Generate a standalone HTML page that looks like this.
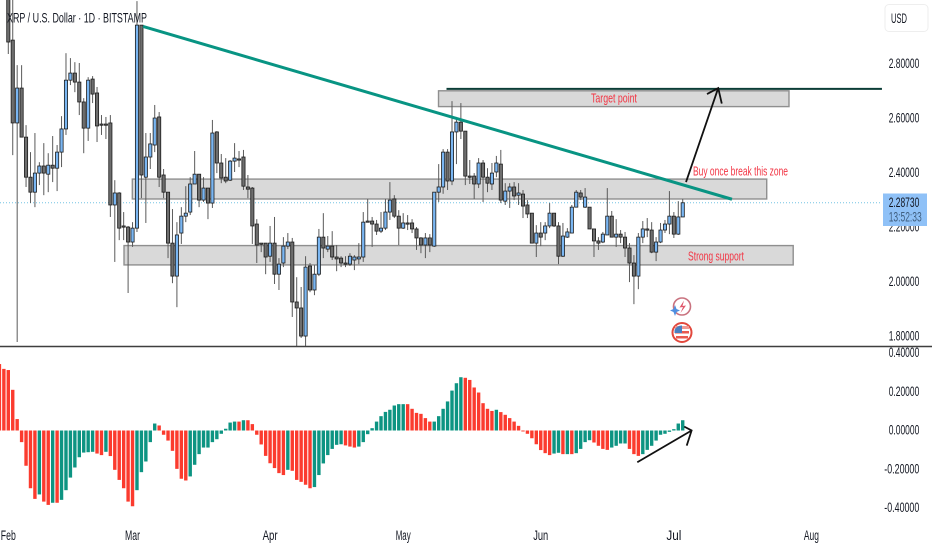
<!DOCTYPE html>
<html><head><meta charset="utf-8"><title>XRP / U.S. Dollar chart</title>
<style>
html,body{margin:0;padding:0;background:#fff;width:932px;height:550px;overflow:hidden}
svg{display:block}
text{font-family:"Liberation Sans",sans-serif}
</style></head>
<body>
<svg id="chart" width="932" height="550" viewBox="0 0 932 550" xmlns="http://www.w3.org/2000/svg">
<rect width="932" height="550" fill="#fff"/>
<defs><clipPath id="priceClip"><rect x="0" y="0" width="882" height="346"/></clipPath></defs>
<g id="zones"></g>
<line id="lastPriceLine" x1="0" x2="882" stroke="#74c4e4" stroke-width="1" stroke-dasharray="1 2"/>
<g id="candles" clip-path="url(#priceClip)"></g>
<g id="hist"></g>
<g id="drawings"></g>
<text x="591" y="102.5" font-size="12.5" fill="#f23645" textLength="46" lengthAdjust="spacingAndGlyphs">Target point</text>
<text x="693" y="175.5" font-size="12.5" fill="#f23645" textLength="95" lengthAdjust="spacingAndGlyphs">Buy once break this zone</text>
<text x="688" y="260.5" font-size="12.5" fill="#f23645" textLength="56" lengthAdjust="spacingAndGlyphs">Strong support</text>
<text x="7" y="22.5" font-size="13.5" fill="#131722" textLength="140" lengthAdjust="spacingAndGlyphs">XRP / U.S. Dollar · 1D · BITSTAMP</text>
<line x1="0" x2="932" y1="346.5" y2="346.5" stroke="#3f3f3f" stroke-width="1.5"/>
<g id="axisLabels"></g>
<g>
<rect x="885" y="4.5" width="43" height="27" rx="4" fill="#fff" stroke="#eeeeee"/>
<text x="891" y="23" font-size="13.5" fill="#131722" textLength="16" lengthAdjust="spacingAndGlyphs">USD</text>
</g>
<g>
<rect id="priceTag" x="883" y="193.5" width="44" height="32.5" fill="#8fc1f7"/>
<text id="priceTagText" x="888.7" y="207" font-size="13.5" fill="#131722" textLength="30.6" lengthAdjust="spacingAndGlyphs">2.28730</text>
<text x="888.7" y="221.5" font-size="13.5" fill="#3f5f80" textLength="33" lengthAdjust="spacingAndGlyphs">13:52:33</text>
</g>
<g>
<circle cx="682" cy="306.5" r="8.5" fill="#fff" stroke="#c9727f" stroke-width="1.6"/>
<path d="M684 300.5 L679.5 307.5 L683 307 L680.5 313 L686 305.5 L682.5 306 Z" fill="#e0566a"/>
<path d="M675 305 L676.5 309 L680 310.5 L676.5 312 L675 316 L673.5 312 L670 310.5 L673.5 309 Z" fill="#4f8fe0"/>
</g>
<g>
<circle cx="682" cy="332.5" r="9.5" fill="#fff" stroke="#e2483d" stroke-width="2"/>
<rect x="675" y="326" width="14" height="3" fill="#f09a94"/>
<rect x="675" y="331" width="14" height="2.5" fill="#e85a50"/>
<rect x="676" y="336" width="12" height="2.5" fill="#e85a50"/>
<path d="M674.5 333 L674.5 330 A8 8 0 0 1 682 325.5 L682 333 Z" fill="#4a7fc0"/>
</g>
<script>
// Time axis: bar index 0 is the first visible candle. Prices are in USD.
const opens=[3.104,2.884,2.580,2.708,2.528,2.381,2.326,2.396,2.422,2.392,2.425,2.414,2.473,2.558,2.737,2.763,2.730,2.657,2.561,2.741,2.690,2.576,2.576,2.580,2.279,2.323,2.202,2.198,2.143,2.194,2.939,2.381,2.455,2.499,2.602,2.389,2.326,2.139,2.018,2.176,2.238,2.253,2.356,2.392,2.297,2.341,2.286,2.547,2.433,2.381,2.370,2.440,2.448,2.455,2.345,2.341,2.209,2.139,2.139,2.091,2.139,2.025,2.066,2.128,2.143,1.923,1.901,1.798,2.055,1.967,2.025,2.161,2.117,2.128,2.088,2.084,2.066,2.062,2.077,2.081,2.088,2.220,2.220,2.209,2.183,2.194,2.253,2.301,2.238,2.194,2.213,2.213,2.191,2.158,2.132,2.158,2.128,2.326,2.345,2.473,2.367,2.547,2.583,2.550,2.385,2.385,2.356,2.433,2.381,2.356,2.400,2.429,2.293,2.330,2.345,2.315,2.319,2.279,2.249,2.139,2.176,2.176,2.202,2.249,2.202,2.091,2.161,2.176,2.271,2.323,2.271,2.271,2.191,2.147,2.143,2.169,2.238,2.161,2.172,2.161,2.121,2.066,2.018,2.161,2.191,2.187,2.106,2.143,2.187,2.209,2.238,2.172,2.235];
const highs=[3.150,3.050,2.792,2.792,2.572,2.473,2.543,2.436,2.506,2.469,2.532,2.499,2.605,2.836,2.818,2.803,2.800,2.671,2.748,2.752,2.712,2.609,2.602,2.609,2.370,2.326,2.253,2.202,2.216,3.027,2.939,2.543,2.543,2.646,2.620,2.411,2.326,2.264,2.216,2.271,2.348,2.381,2.477,2.392,2.381,2.341,2.591,2.550,2.466,2.451,2.444,2.506,2.477,2.481,2.389,2.345,2.227,2.139,2.139,2.202,2.235,2.084,2.161,2.176,2.158,2.014,1.978,2.091,2.066,2.058,2.191,2.249,2.165,2.183,2.132,2.091,2.091,2.102,2.095,2.139,2.253,2.301,2.235,2.224,2.253,2.301,2.363,2.315,2.260,2.249,2.242,2.227,2.198,2.161,2.176,2.172,2.326,2.429,2.484,2.484,2.660,2.602,2.653,2.550,2.444,2.396,2.451,2.444,2.414,2.433,2.459,2.481,2.359,2.359,2.363,2.359,2.334,2.297,2.249,2.205,2.216,2.216,2.286,2.249,2.216,2.213,2.194,2.279,2.334,2.334,2.341,2.271,2.191,2.161,2.180,2.341,2.257,2.227,2.187,2.180,2.139,2.095,2.176,2.220,2.231,2.216,2.161,2.213,2.224,2.330,2.253,2.293,2.301];
const lows=[2.833,2.462,1.776,2.528,2.345,2.286,2.271,2.352,2.315,2.326,2.363,2.330,2.418,2.536,2.719,2.693,2.609,2.469,2.514,2.653,2.510,2.536,2.521,2.235,2.070,2.150,2.150,1.956,2.125,2.180,2.304,2.213,2.411,2.473,2.345,2.304,2.084,1.992,1.904,2.136,2.216,2.242,2.356,2.271,2.290,2.227,2.268,2.396,2.359,2.359,2.367,2.400,2.418,2.334,2.304,2.136,2.066,2.106,2.025,2.070,1.989,1.967,2.051,2.117,1.868,1.760,1.791,1.760,1.959,1.948,2.018,2.084,2.106,2.077,2.036,2.051,2.051,2.055,2.040,2.062,2.070,2.216,2.125,2.169,2.176,2.187,2.224,2.231,2.132,2.191,2.187,2.176,2.114,2.102,2.084,2.106,2.125,2.290,2.320,2.334,2.352,2.429,2.521,2.352,2.356,2.301,2.341,2.290,2.326,2.334,2.381,2.286,2.279,2.268,2.297,2.279,2.231,2.231,2.139,2.088,2.128,2.150,2.194,2.198,2.062,2.088,2.158,2.176,2.271,2.297,2.268,2.191,2.088,2.114,2.139,2.169,2.161,2.125,2.139,2.088,1.996,1.915,1.970,2.139,2.161,2.102,2.073,2.139,2.176,2.172,2.158,2.169,2.235];
const closes=[2.877,2.580,2.708,2.528,2.381,2.326,2.396,2.422,2.396,2.425,2.414,2.473,2.558,2.737,2.763,2.730,2.657,2.561,2.737,2.686,2.569,2.572,2.572,2.279,2.323,2.194,2.198,2.143,2.194,2.939,2.389,2.455,2.503,2.598,2.381,2.326,2.139,2.018,2.169,2.238,2.249,2.356,2.392,2.297,2.341,2.286,2.543,2.433,2.378,2.367,2.440,2.451,2.444,2.348,2.337,2.202,2.132,2.136,2.088,2.139,2.025,2.062,2.128,2.143,1.923,1.901,1.798,2.051,1.967,2.025,2.161,2.121,2.128,2.088,2.081,2.066,2.062,2.091,2.088,2.088,2.216,2.216,2.209,2.183,2.194,2.253,2.297,2.238,2.194,2.213,2.209,2.191,2.158,2.132,2.158,2.132,2.326,2.345,2.473,2.367,2.547,2.583,2.550,2.385,2.381,2.356,2.433,2.381,2.359,2.396,2.433,2.297,2.330,2.345,2.312,2.323,2.275,2.246,2.139,2.176,2.161,2.202,2.249,2.202,2.091,2.165,2.180,2.271,2.326,2.308,2.308,2.191,2.147,2.139,2.172,2.238,2.161,2.172,2.161,2.121,2.066,2.018,2.161,2.191,2.187,2.106,2.143,2.187,2.209,2.238,2.172,2.235,2.287];

// Oscillator histogram; first two bars sit left of candle 0.
const histValues=[.343,.318,.312,.210,.059,-.060,-.182,-.298,-.353,-.330,-.367,-.384,-.373,-.373,-.358,-.308,-.243,-.191,-.138,-.114,-.112,-.110,-.119,-.127,-.110,-.132,-.203,-.255,-.298,-.367,-.391,-.308,-.215,-.160,-.060,.036,.026,-.022,-.052,-.105,-.198,-.249,-.258,-.237,-.177,-.122,-.088,-.088,-.060,-.045,-.017,.009,.041,.046,.046,.053,.053,.033,-.022,-.072,-.131,-.169,-.194,-.220,-.230,-.203,-.208,-.255,-.265,-.280,-.298,-.292,-.230,-.170,-.127,-.095,-.074,-.071,-.077,-.083,-.088,-.083,-.060,-.019,.012,.046,.074,.096,.107,.129,.136,.136,.136,.112,.091,.086,.064,.046,.046,.074,.112,.150,.206,.244,.275,.272,.261,.222,.196,.141,.112,.101,.107,.095,.081,.064,.046,.024,-.005,-.017,-.040,-.071,-.101,-.117,-.127,-.119,-.115,-.122,-.122,-.122,-.117,-.095,-.060,-.050,-.062,-.079,-.095,-.100,-.088,-.079,-.067,-.067,-.095,-.122,-.131,-.122,-.100,-.079,-.052,-.022,-.017,-.007,.007,.036,.053];
const histRising=[0,0,0,0,0,0,0,0,0,1,0,0,1,0,1,1,1,1,1,1,1,1,0,0,1,0,0,0,0,0,0,1,1,1,1,1,0,0,0,0,0,0,0,1,1,1,1,1,1,1,1,1,1,1,0,1,0,0,0,0,0,0,0,0,0,1,0,0,0,0,0,1,1,1,1,1,1,1,0,0,0,1,1,1,1,1,1,1,1,1,1,1,0,0,0,0,0,0,1,1,1,1,1,1,1,0,0,0,0,0,0,0,1,0,0,0,0,0,0,0,0,0,0,0,0,1,1,0,1,0,1,1,1,1,0,0,0,0,1,1,1,1,0,0,0,1,1,1,1,1,1,1,1,1,1];

// Axis ticks
const priceTicks=[2.8,2.6,2.4,2.2,2.0,1.8];
const oscTicks=[0.4,0.2,0,-0.2,-0.4];
const monthLabels=["Feb","Mar","Apr","May","Jun","Jul","Aug"];
const monthBars=[0,28,59,89,120,150,181];

// Drawings, anchored in bar index and value.
const zoneNames=["target-zone","resistance-zone","support-zone"];
const zoneStartBars=[96.96,27.95,26.08];
const zoneEndBars=[175.95,170.93,176.9];
const zoneTopPrices=[2.698,2.374,2.130];
const zoneBottomPrices=[2.640,2.301,2.059];

const trendBars=[30.36,163.1];
const trendPrices=[2.934,2.300];
const targetLineBars=[98.76,196.9];
const targetLinePrice=2.705;
const upArrowBars=[152.74,160,157.47,160.8];
const upArrowPrices=[2.363,2.708,2.686,2.651];
const oscArrowBars=[141.76,154,152.35,152.9];
const oscArrowValues=[-0.164,0,0.02,-0.078];

const NS='http://www.w3.org/2000/svg';
function barX(b){return 8.3+4.437*b}
function priceY(p){return 63+(2.8-p)*272.5}
function oscY(v){return 430.5-v*193.75}
function make(tag,attrs,parent){
  const el=document.createElementNS(NS,tag);
  for(const k in attrs)el.setAttribute(k,attrs[k]);
  parent.appendChild(el);
  return el;
}
const zonesG=document.getElementById('zones');
zoneNames.forEach(function(n,i){
  const x1=barX(zoneStartBars[i]),x2=barX(zoneEndBars[i]),y1=priceY(zoneTopPrices[i]),y2=priceY(zoneBottomPrices[i]);
  const r=make('rect',{x:x1,y:y1,width:x2-x1,height:y2-y1,fill:'#d9d9d9',stroke:'#8f8f8f','stroke-width':1.4},zonesG);
  
  
});
const lastY=priceY(closes[closes.length-1]);
const lp=document.getElementById('lastPriceLine');
lp.setAttribute('y1',lastY);
lp.setAttribute('y2',lastY);

const cg=document.getElementById('candles');
closes.forEach(function(c,i){
  const o=opens[i],x=barX(i),up=c>=o;
  const top=priceY(Math.max(o,c)),bot=priceY(Math.min(o,c));
  const w=make('line',{x1:x,x2:x,y1:priceY(highs[i]),y2:priceY(lows[i]),stroke:'#5a5a5a','stroke-width':1},cg);
  
  
  const b=make('rect',{x:x-1.6,y:top,width:3.2,height:Math.max(bot-top,1.2),fill:up?'#7ab6f2':'#6e6e6e',stroke:'#1c1c1c','stroke-width':0.8},cg);
  
  
});

const hg=document.getElementById('hist');
histValues.forEach(function(v,i){
  const x=barX(i-2),y0=oscY(0),y=oscY(v);
  const r=make('rect',{x:x-1.7,y:Math.min(y,y0),width:3.4,height:Math.abs(y-y0),fill:histRising[i]?'#0d9482':'#fb3b2e'},hg);
  
  
});

const dg=document.getElementById('drawings');
const trend=make('line',{x1:barX(trendBars[0]),y1:priceY(trendPrices[0]),x2:barX(trendBars[1]),y2:priceY(trendPrices[1]),stroke:'#089483','stroke-width':3},dg);


const tl=make('line',{x1:barX(targetLineBars[0]),y1:priceY(targetLinePrice),x2:barX(targetLineBars[1]),y2:priceY(targetLinePrice),stroke:'#0b3d36','stroke-width':2},dg);


function arrowPath(xs,ys){
  return 'M'+xs[0]+' '+ys[0]+' L'+xs[1]+' '+ys[1]+' M'+xs[2]+' '+ys[2]+' L'+xs[1]+' '+ys[1]+' L'+xs[3]+' '+ys[3];
}
const a1=make('path',{d:arrowPath(upArrowBars.map(barX),upArrowPrices.map(priceY)),fill:'none',stroke:'#111','stroke-width':1.8},dg);


const a2=make('path',{d:arrowPath(oscArrowBars.map(barX),oscArrowValues.map(oscY)),fill:'none',stroke:'#111','stroke-width':1.8},dg);



const ag=document.getElementById('axisLabels');
priceTicks.forEach(function(t){
  const el=make('text',{x:919.3,y:priceY(t)+5,'font-size':13.5,fill:'#131722','text-anchor':'end',textLength:30.6,lengthAdjust:'spacingAndGlyphs'},ag);
  el.textContent=t.toFixed(5);
  
  
});
oscTicks.forEach(function(t){
  const el=make('text',{x:919.3,y:oscY(t)+4,'font-size':13.5,fill:'#131722','text-anchor':'end',textLength:t<0?35:30.6,lengthAdjust:'spacingAndGlyphs'},ag);
  el.textContent=t.toFixed(5);
  
  
});
monthLabels.forEach(function(m,i){
  const el=make('text',{x:barX(monthBars[i]),y:540,'font-size':13.5,fill:'#131722','text-anchor':'middle',textLength:15,lengthAdjust:'spacingAndGlyphs'},ag);
  el.textContent=m;
  
  
});
</script>
</svg>
</body></html>
